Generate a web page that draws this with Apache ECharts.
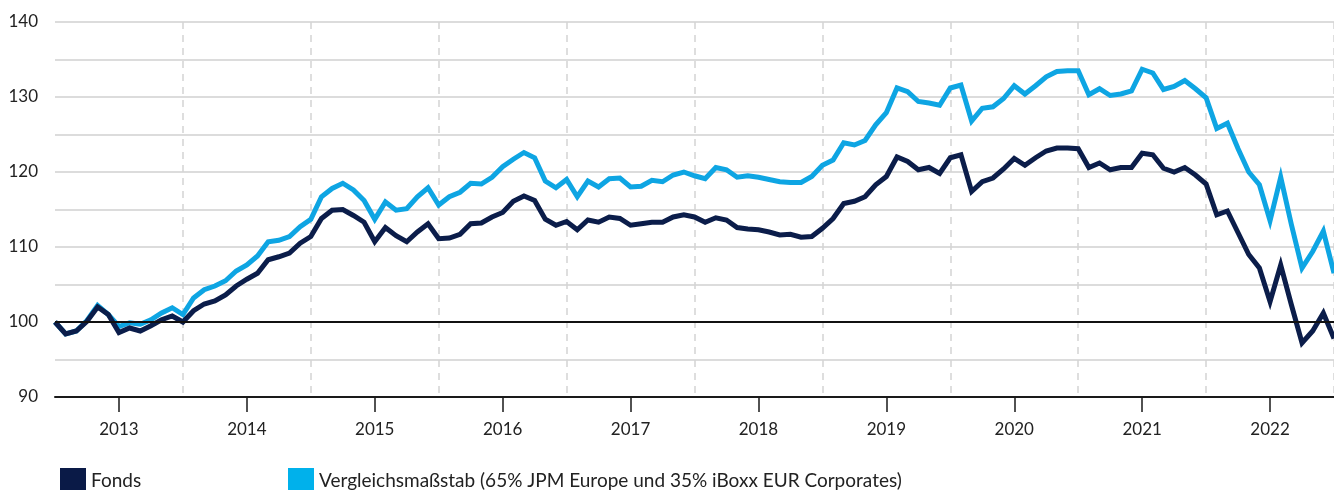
<!DOCTYPE html>
<html>
<head>
<meta charset="utf-8">
<title>Fonds vs. Vergleichsmaßstab</title>
<script src="https://cdn.jsdelivr.net/npm/echarts@6/dist/echarts.min.js"></script>
<style>
  html, body { margin: 0; padding: 0; background: #fff; }
  #main { width: 1334px; height: 490px; }
</style>
</head>
<body>
<div id="main"></div>
<script>
// Monatswerte Jul 2012 - Jul 2022, indexiert auf 100
var fondsName = 'Fonds'
var benchName = 'Vergleichsmaßstab (65% JPM Europe und 35% iBoxx EUR Corporates)'

var firstMonth = [2012, 7]
var lastMonth = [2022, 7]

var fonds = [
  100.0, 98.4, 98.8, 100.1, 102.0, 101.0, 98.6, 99.2, 98.8, 99.5,
  100.3, 100.8, 100.0, 101.5, 102.4, 102.8, 103.6, 104.8, 105.7, 106.5,
  108.3, 108.7, 109.2, 110.5, 111.4, 113.8, 114.9, 115.0, 114.2, 113.3,
  110.7, 112.6, 111.5, 110.7, 112.0, 113.1, 111.1, 111.2, 111.7, 113.1,
  113.2, 114.0, 114.6, 116.1, 116.8, 116.2, 113.7, 112.9, 113.4, 112.3,
  113.6, 113.3, 114.0, 113.8, 112.9, 113.1, 113.3, 113.3, 114.0, 114.3,
  114.0, 113.3, 113.9, 113.6, 112.6, 112.4, 112.3, 112.0, 111.6, 111.7,
  111.3, 111.4, 112.5, 113.8, 115.8, 116.1, 116.7, 118.3, 119.4, 122.0,
  121.4, 120.3, 120.6, 119.8, 121.9, 122.3, 117.4, 118.7, 119.2, 120.4,
  121.8, 120.9, 121.9, 122.8, 123.2, 123.2, 123.1, 120.6, 121.2, 120.3,
  120.6, 120.6, 122.5, 122.3, 120.5, 120.0, 120.6, 119.6, 118.4, 114.3,
  114.8, 111.9, 109.0, 107.2, 102.7, 107.6, 102.3, 97.2, 98.8, 101.2,
  97.8
]

var benchmark = [
  100.0, 98.4, 98.8, 100.2, 102.2, 101.0, 99.4, 99.9, 99.7, 100.3,
  101.2, 101.9, 101.0, 103.2, 104.3, 104.8, 105.5, 106.8, 107.6, 108.8,
  110.7, 110.9, 111.4, 112.7, 113.7, 116.7, 117.8, 118.5, 117.6, 116.2,
  113.7, 116.0, 114.9, 115.1, 116.7, 117.9, 115.6, 116.7, 117.3, 118.5,
  118.4, 119.3, 120.7, 121.7, 122.6, 121.9, 118.8, 117.9, 119.0, 116.7,
  118.8, 118.0, 119.1, 119.2, 118.0, 118.1, 118.9, 118.7, 119.6, 120.0,
  119.5, 119.1, 120.6, 120.3, 119.3, 119.5, 119.3, 119.0, 118.7, 118.6,
  118.6, 119.4, 120.9, 121.6, 123.9, 123.6, 124.2, 126.3, 127.9, 131.2,
  130.7, 129.4, 129.2, 128.9, 131.2, 131.6, 126.8, 128.5, 128.7, 129.8,
  131.5, 130.4, 131.5, 132.7, 133.4, 133.5, 133.5, 130.3, 131.1, 130.2,
  130.4, 130.8, 133.7, 133.2, 131.0, 131.4, 132.2, 131.1, 129.9, 125.8,
  126.5, 123.1, 120.0, 118.3, 113.5, 119.3, 113.0, 107.2, 109.4, 112.1,
  106.5
]

// Kategorien: "JJJJ-MM"
var months = []
for (var y = firstMonth[0]; y <= lastMonth[0]; y++) {
  for (var m = 1; m <= 12; m++) {
    if (y === firstMonth[0] && m < firstMonth[1]) continue
    if (y === lastMonth[0] && m > lastMonth[1]) continue
    months.push(y + '-' + (m < 10 ? '0' + m : m))
  }
}

var yTicks = [90, 100, 110, 120, 130, 140]

var darkBlue = '#0b1d4a'
var lightBlue = '#0ea5e3'
var font = 'Lato, "DejaVu Sans", sans-serif'

var legendCommon = {
  top: 463,
  itemWidth: 26,
  itemHeight: 25,
  icon: 'rect',
  selectedMode: false,
  itemStyle: { borderWidth: 0 },
  textStyle: { fontFamily: font, fontSize: 19, color: '#222', padding: [13, 0, 0, 0] }
}

var option = {
  animation: false,
  backgroundColor: '#fff',
  grid: { left: 55, right: -4, top: 22, bottom: 93 },
  legend: [
    Object.assign({}, legendCommon, { left: 55, data: [{ name: fondsName, itemStyle: { color: '#0a1a47' } }] }),
    Object.assign({}, legendCommon, { left: 283, data: [{ name: benchName, itemStyle: { color: '#00b1eb' } }] })
  ],
  xAxis: {
    type: 'category',
    data: months,
    boundaryGap: false,
    axisLine: { lineStyle: { color: '#1a1a1a', width: 2 } },
    axisTick: {
      length: 15,
      lineStyle: { color: '#1a1a1a', width: 1.5 },
      interval: function (i, v) { return v.slice(5) === '01' }
    },
    axisLabel: {
      margin: 24,
      fontFamily: font,
      fontSize: 17,
      color: '#222',
      interval: function (i, v) { return v.slice(5) === '01' },
      formatter: function (v) { return v.slice(0, 4) }
    },
    splitLine: {
      show: true,
      lineStyle: { color: '#d4d4d4', width: 1.5, type: [7, 6] },
      interval: function (i, v) { return i > 0 && v.slice(5) === '07' }
    }
  },
  yAxis: {
    type: 'value',
    min: 90,
    max: 140,
    interval: 5,
    axisLine: { show: false },
    axisTick: { show: false },
    axisLabel: {
      margin: 17,
      fontFamily: font,
      fontSize: 17,
      color: '#222',
      formatter: function (v) { return yTicks.indexOf(v) >= 0 ? v : '' }
    },
    splitLine: { lineStyle: { color: '#dcdcdc', width: 2 } }
  },
  series: [
    {
      name: benchName,
      type: 'line',
      data: benchmark,
      symbol: 'none',
      color: lightBlue,
      lineStyle: { width: 5, color: lightBlue, join: 'miter' },
      markLine: {
        silent: true,
        symbol: 'none',
        label: { show: false },
        lineStyle: { color: '#111', width: 2, type: 'solid' },
        data: [{ yAxis: 100 }]
      }
    },
    {
      name: fondsName,
      type: 'line',
      data: fonds,
      symbol: 'none',
      color: darkBlue,
      lineStyle: { width: 5, color: darkBlue, join: 'miter' }
    }
  ]
}

var chart = echarts.init(document.getElementById('main'))
chart.setOption(option)
</script>
</body>
</html>
